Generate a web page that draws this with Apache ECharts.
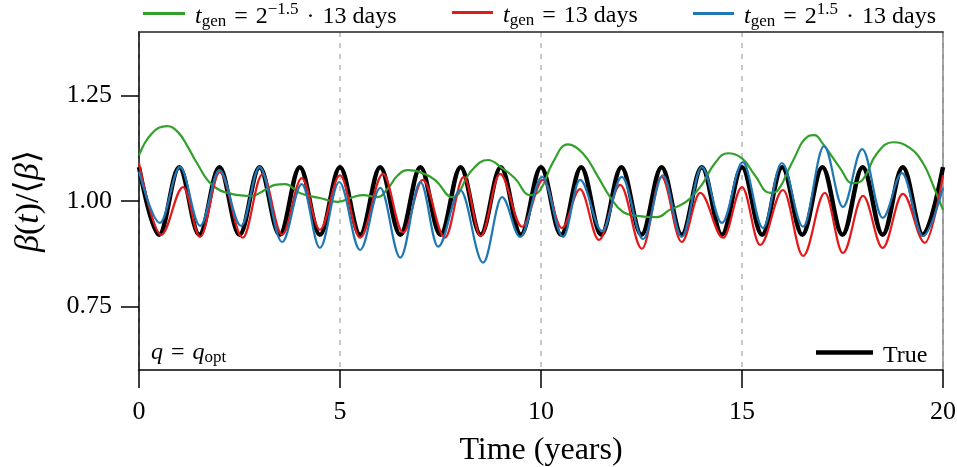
<!DOCTYPE html>
<html><head><meta charset="utf-8">
<script src="https://cdn.jsdelivr.net/npm/echarts@6/dist/echarts.min.js"></script>
<style>html,body{margin:0;padding:0;background:#fff}#c{width:957px;height:467px}</style>
</head><body><div id="c"></div>
<script>
// ---- data ----
const trueT = [0,0.5,1,1.5,2,2.5,3,3.5,4,4.5,5,5.5,6,6.5,7,7.5,8,8.5,9,9.5,10,10.5,11,11.5,12,12.5,13,13.5,14,14.5,15,15.5,16,16.5,17,17.5,18,18.5,19,19.5,20];
const trueV = [1.08,0.92,1.08,0.92,1.08,0.92,1.08,0.92,1.08,0.92,1.08,0.92,1.08,0.92,1.08,0.92,1.08,0.92,1.08,0.92,1.08,0.92,1.08,0.92,1.08,0.92,1.08,0.92,1.08,0.92,1.08,0.92,1.08,0.92,1.08,0.92,1.08,0.92,1.08,0.92,1.08];

const greenT = [0,0.32,0.7,0.97,1.22,1.44,1.82,2.3,2.8,3.13,3.38,3.63,4.0,4.5,4.95,5.32,5.57,5.92,6.2,6.44,6.69,7.0,7.36,7.79,8.28,8.68,9.03,9.35,9.73,9.98,10.3,10.67,11.04,11.42,11.72,12.04,12.39,12.89,13.2,13.46,13.7,14.0,14.33,14.65,15.0,15.32,15.7,15.9,16.24,16.64,16.8,17.0,17.44,17.76,18.0,18.36,18.76,19.18,19.5,19.75,20];
const greenV = [1.108,1.16,1.177,1.163,1.127,1.09,1.038,1.017,1.012,1.026,1.038,1.04,1.019,1.007,0.998,1.009,1.014,1.009,1.031,1.061,1.073,1.068,1.05,1.009,1.073,1.097,1.078,1.054,1.014,1.026,1.092,1.134,1.113,1.057,1.009,0.974,0.965,0.962,0.979,0.99,1.005,1.038,1.09,1.113,1.101,1.061,1.019,1.026,1.09,1.153,1.156,1.137,1.078,1.042,1.05,1.113,1.139,1.125,1.09,1.038,0.979];

const redT = [0,0.55,1.1,1.52,2.01,2.58,3.07,3.56,4.05,4.5,5.0,5.5,6.07,6.57,7.06,7.61,8.08,8.5,8.98,9.53,10.05,10.52,10.97,11.44,11.97,12.51,13.0,13.5,13.96,14.53,15.0,15.45,16.02,16.52,17.06,17.51,18.01,18.5,19.0,19.55,20];
const redV = [1.09,0.92,1.033,0.915,1.068,0.913,1.063,0.92,1.054,0.932,1.061,0.913,1.064,0.925,1.05,0.913,1.057,0.917,1.064,0.939,1.05,0.936,1.028,0.908,1.038,0.887,1.057,0.903,1.019,0.913,1.033,0.896,1.026,0.87,1.019,0.877,1.012,0.889,1.017,0.901,1.061];

const blueT = [0,0.52,1.02,1.52,2.0,2.54,3.0,3.56,4.05,4.5,4.98,5.5,6.0,6.5,7.0,7.44,7.99,8.56,9.03,9.48,10.03,10.55,10.97,11.52,12.01,12.54,13.03,13.5,14.0,14.5,15.02,15.52,15.99,16.52,17.04,17.51,17.99,18.5,18.98,19.5,20];
const blueV = [1.07,0.948,1.08,0.941,1.073,0.941,1.08,0.903,1.04,0.889,1.045,0.884,1.031,0.866,1.045,0.892,1.026,0.854,1.009,0.915,1.057,0.915,1.05,0.929,1.057,0.91,1.061,0.915,1.08,0.948,1.092,0.936,1.09,0.939,1.13,0.986,1.123,0.96,1.066,0.917,1.031];

const xTicks = [0,5,10,15,20];
const yTicks = [0.75,1.00,1.25];

const names = {
  g: 'tgen = 2^-1.5 · 13 days',
  r: 'tgen = 13 days',
  b: 'tgen = 2^1.5 · 13 days',
  k: 'True'
};
const labels = {};
labels[names.g] = '{i|t}{sub|gen}{op|=}2{sup|\u22121.5}{op|\u00b7}13 days';
labels[names.r] = '{i|t}{sub|gen}{op|=}13 days';
labels[names.b] = '{i|t}{sub|gen}{op|=}2{sup|1.5}{op|\u00b7}13 days';
labels[names.k] = 'True';

const pairs = (t, v) => t.map((x, i) => [x, v[i]]);

const FONT = '"Liberation Serif", "DejaVu Serif", serif';
const FS = 24;
const rich = {
  i: {fontFamily: FONT, fontStyle: 'italic', fontSize: FS, color: '#000'},
  sub: {fontFamily: FONT, fontSize: 17, color: '#000', padding: [10, 0, 0, 0]},
  sup: {fontFamily: FONT, fontSize: 17, color: '#000', padding: [0, 0, 15, 0]},
  op: {fontFamily: FONT, fontSize: FS, color: '#000', padding: [0, 8, 0, 8]}
};
const legendText = {fontFamily: FONT, fontSize: FS, color: '#000', rich: rich, padding: [7, 0, 0, 5]};

const chart = echarts.init(document.getElementById('c'), null, {renderer: 'canvas'});
const mkLegend = (n, left, top, w, h) => ({
  data: [n], left: left, top: top, itemWidth: w, itemHeight: h, padding: 0, icon: 'rect',
  selectedMode: false, textStyle: legendText, formatter: nm => labels[nm]
});

chart.setOption({
  animation: false,
  backgroundColor: '#fff',
  grid: {left: 139, right: 14, top: 32, bottom: 97, outerBoundsMode: 'none', containLabel: false},
  legend: [
    mkLegend(names.g, 143, 1, 42, 3),
    mkLegend(names.r, 452, 4, 41, 3),
    mkLegend(names.b, 693, 1, 41, 3),
    mkLegend(names.k, 816, 344, 57, 4.5)
  ],
  graphic: [{
    type: 'text', left: 151, top: 341,
    style: {text: '{i|q}{op|=}{i|q}{sub|opt}', fontFamily: FONT, fontSize: FS, fill: '#000', rich: rich}
  }],
  xAxis: [{
    type: 'value', min: 0, max: 20, interval: 5,
    name: 'Time (years)', nameLocation: 'middle', nameGap: 65,
    nameTextStyle: {fontFamily: FONT, fontSize: 32, color: '#000'},
    axisLine: {show: true, onZero: false, lineStyle: {color: '#000', width: 1.5}},
    axisTick: {show: true, length: 18, lineStyle: {color: '#000', width: 1.5}},
    axisLabel: {margin: 29, fontFamily: FONT, fontSize: 26, color: '#000'},
    splitLine: {show: true, lineStyle: {color: '#c8c8c8', type: [5, 6], width: 2}}
  }, {
    type: 'value', min: 0, max: 20, position: 'top',
    axisLine: {show: true, onZero: false, lineStyle: {color: '#222', width: 1.5}},
    axisTick: {show: false}, axisLabel: {show: false}, splitLine: {show: false}
  }],
  yAxis: [{
    type: 'value', min: 0.6, max: 1.4,
    name: '{i|\u03b2}({i|t})/\u27e8{i|\u03b2}\u27e9', nameLocation: 'middle', nameGap: 93,
    nameTextStyle: {fontFamily: FONT, fontSize: 34, color: '#000',
      rich: {i: {fontFamily: FONT, fontStyle: 'italic', fontSize: 34, color: '#000'}}},
    axisLine: {show: true, onZero: false, lineStyle: {color: '#000', width: 1.5}},
    axisTick: {show: true, length: 18, customValues: yTicks, lineStyle: {color: '#000', width: 1.5}},
    axisLabel: {margin: 27, fontFamily: FONT, fontSize: 26, color: '#000', customValues: yTicks,
      formatter: v => v.toFixed(2)},
    splitLine: {show: false}
  }, {
    type: 'value', min: 0.6, max: 1.4, position: 'right',
    axisLine: {show: true, onZero: false, lineStyle: {color: '#888', width: 1.5}},
    axisTick: {show: false}, axisLabel: {show: false}, splitLine: {show: false}
  }],
  series: [
    {name: names.k, type: 'line', data: pairs(trueT, trueV), symbol: 'none',
     smooth: 0.36, smoothMonotone: 'x', lineStyle: {color: '#000', width: 4.5}, itemStyle: {color: '#000'}},
    {name: names.g, type: 'line', data: pairs(greenT, greenV), symbol: 'none',
     smooth: 0.45, lineStyle: {color: '#33a02c', width: 2.2}, itemStyle: {color: '#33a02c'}},
    {name: names.r, type: 'line', data: pairs(redT, redV), symbol: 'none',
     smooth: 0.36, smoothMonotone: 'x', lineStyle: {color: '#e31a1c', width: 2.2}, itemStyle: {color: '#e31a1c'}},
    {name: names.b, type: 'line', data: pairs(blueT, blueV), symbol: 'none',
     smooth: 0.36, smoothMonotone: 'x', lineStyle: {color: '#1f78b4', width: 2.2}, itemStyle: {color: '#1f78b4'}}
  ]
});
</script>
</body></html>
